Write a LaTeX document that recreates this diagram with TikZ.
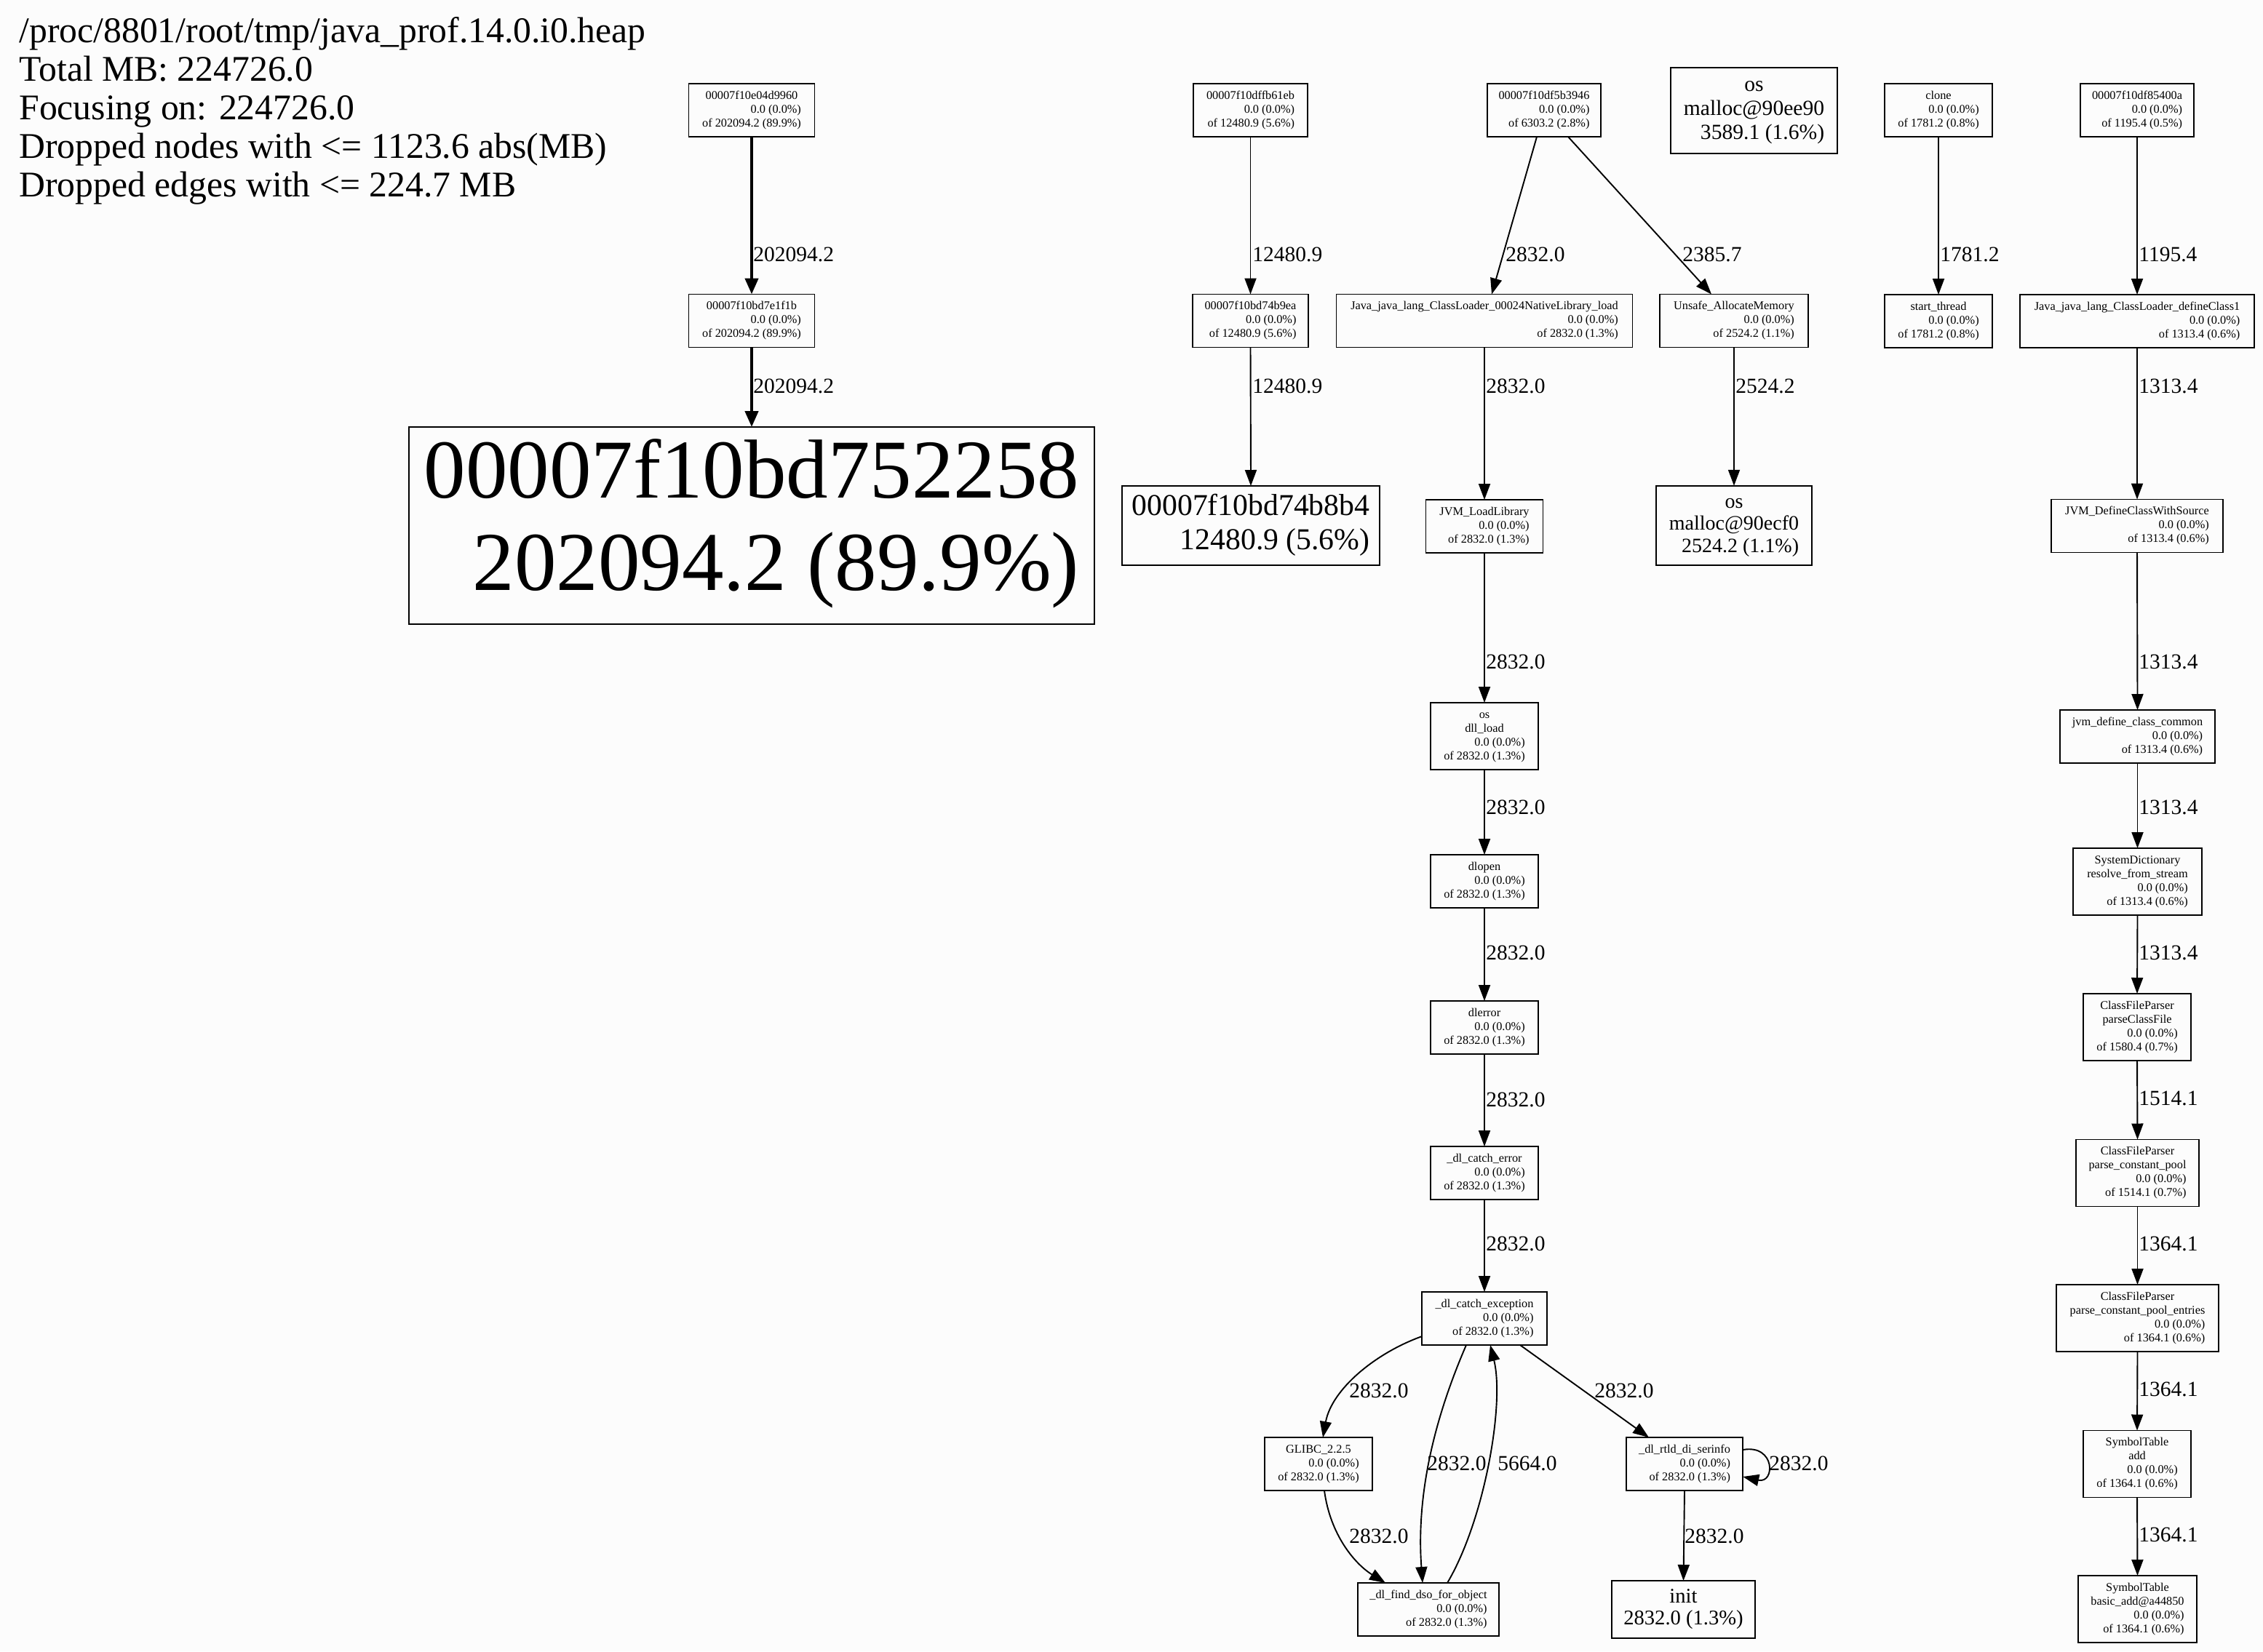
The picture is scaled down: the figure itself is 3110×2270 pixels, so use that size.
\documentclass[tikz,border=0pt]{standalone}
\usepackage{fontspec}
\setmainfont{Liberation Serif}
\usetikzlibrary{arrows.meta}
\newcommand\cl[1]{\multicolumn{1}{@{}c@{}}{#1}}
\newcommand\gv[1]{\begin{tabular}{@{}r@{}}#1\end{tabular}}
\definecolor{bgc}{RGB}{252,252,252}
\begin{document}
\begin{tikzpicture}[x=0.5pt,y=-0.5pt,
  gvbox/.style 2 args={draw, line width=0.9pt, inner sep=0pt, outer sep=0pt,
    minimum width=#1, minimum height=#2, font=\fontsize{8.15}{9.5}\selectfont},
  conn/.style={-{Triangle[length=11pt,width=8pt]}, line width=0.95pt},
  thickconn/.style={-{Triangle[length=11pt,width=9pt]}, line width=2.2pt},
  elab/.style={anchor=west, inner sep=0.5pt, font=\fontsize{14.75}{16}\selectfont},
  hdr/.style={anchor=base west, inner sep=0pt, font=\fontsize{24.85}{26.5}\selectfont}]
\useasboundingbox (0,0) rectangle (3110,2270);
\fill[bgc] (0,0) rectangle (3110,2270);

% header
\node[hdr] (h1) at (26,58) {/proc/8801/root/tmp/java\_prof.14.0.i0.heap};
\node[hdr] (h2) at (26,111) {Total MB: 224726.0};
\node[hdr] (h3) at (26,164) {Focusing on: 224726.0};
\node[hdr] (h4) at (26,217) {Dropped nodes with <= 1123.6 abs(MB)};
\node[hdr] (h5) at (26,270) {Dropped edges with <= 224.7 MB};

% column 1
\node[gvbox={86.5pt}{36.5pt}] (n1) at (1033,151.5) {\gv{\cl{00007f10e04d9960}\\0.0 (0.0\%)\\of 202094.2 (89.9\%)}};
\node[gvbox={86.5pt}{36.5pt}] (n2) at (1033,441) {\gv{\cl{00007f10bd7e1f1b}\\0.0 (0.0\%)\\of 202094.2 (89.9\%)}};
\node[gvbox={471pt}{135.5pt}, font=\fontsize{57.5}{63.5}\selectfont] (big) at (1033,722.5) {\gv{\cl{00007f10bd752258}\\202094.2 (89.9\%)}};

% column 2
\node[gvbox={78.5pt}{36.5pt}] (n4) at (1718.5,151.5) {\gv{\cl{00007f10dffb61eb}\\0.0 (0.0\%)\\of 12480.9 (5.6\%)}};
\node[gvbox={79.5pt}{36.5pt}] (n5) at (1718.5,441) {\gv{\cl{00007f10bd74b9ea}\\0.0 (0.0\%)\\of 12480.9 (5.6\%)}};
\node[gvbox={177pt}{54.5pt}, font=\fontsize{20.85}{23.5}\selectfont] (b8b4) at (1719,722.5) {\gv{\cl{00007f10bd74b8b4}\\12480.9 (5.6\%)}};

% column 3
\node[gvbox={77.75pt}{36.5pt}] (n7) at (2122,151.5) {\gv{\cl{00007f10df5b3946}\\0.0 (0.0\%)\\of 6303.2 (2.8\%)}};
\node[gvbox={203.5pt}{36.5pt}] (n8) at (2040,441) {\gv{\cl{Java\_java\_lang\_ClassLoader\_00024NativeLibrary\_load}\\0.0 (0.0\%)\\of 2832.0 (1.3\%)}};
\node[gvbox={102pt}{36.5pt}] (n9) at (2383,441) {\gv{\cl{Unsafe\_AllocateMemory}\\0.0 (0.0\%)\\of 2524.2 (1.1\%)}};
\node[gvbox={114.5pt}{59pt}, font=\fontsize{14.8}{16.5}\selectfont] (mee) at (2410.5,152) {\gv{\cl{os}\\\cl{malloc@90ee90}\\3589.1 (1.6\%)}};
\node[gvbox={107pt}{54.75pt}, font=\fontsize{14}{15.3}\selectfont] (mec) at (2383,722.5) {\gv{\cl{os}\\\cl{malloc@90ecf0}\\2524.2 (1.1\%)}};
\node[gvbox={80.5pt}{36.5pt}] (jll) at (2040,723.5) {\gv{\cl{JVM\_LoadLibrary}\\0.0 (0.0\%)\\of 2832.0 (1.3\%)}};
\node[gvbox={74pt}{46pt}] (dll) at (2040,1012) {\gv{\cl{os}\\\cl{dll\_load}\\0.0 (0.0\%)\\of 2832.0 (1.3\%)}};
\node[gvbox={74pt}{36.5pt}] (dlo) at (2040,1211.5) {\gv{\cl{dlopen}\\0.0 (0.0\%)\\of 2832.0 (1.3\%)}};
\node[gvbox={74pt}{36.5pt}] (dle) at (2040,1412.5) {\gv{\cl{dlerror}\\0.0 (0.0\%)\\of 2832.0 (1.3\%)}};
\node[gvbox={74pt}{36.5pt}] (dce) at (2040,1612.5) {\gv{\cl{\_dl\_catch\_error}\\0.0 (0.0\%)\\of 2832.0 (1.3\%)}};
\node[gvbox={85.75pt}{36.5pt}] (cex) at (2040,1812.5) {\gv{\cl{\_dl\_catch\_exception}\\0.0 (0.0\%)\\of 2832.0 (1.3\%)}};
\node[gvbox={74pt}{36.5pt}] (gl) at (1812,2012.5) {\gv{\cl{GLIBC\_2.2.5}\\0.0 (0.0\%)\\of 2832.0 (1.3\%)}};
\node[gvbox={97pt}{36.5pt}] (fd) at (1963,2212.5) {\gv{\cl{\_dl\_find\_dso\_for\_object}\\0.0 (0.0\%)\\of 2832.0 (1.3\%)}};
\node[gvbox={80.25pt}{36.5pt}] (rt) at (2315,2012.5) {\gv{\cl{\_dl\_rtld\_di\_serinfo}\\0.0 (0.0\%)\\of 2832.0 (1.3\%)}};
\node[gvbox={98.5pt}{39.5pt}, font=\fontsize{14.3}{15}\selectfont] (ini) at (2313.5,2212.5) {\gv{\cl{init}\\2832.0 (1.3\%)}};

% column 4
\node[gvbox={74pt}{36.5pt}] (clo) at (2664,151.5) {\gv{\cl{clone}\\0.0 (0.0\%)\\of 1781.2 (0.8\%)}};
\node[gvbox={74pt}{36.5pt}] (sth) at (2664,441.5) {\gv{\cl{start\_thread}\\0.0 (0.0\%)\\of 1781.2 (0.8\%)}};

% column 5
\node[gvbox={78pt}{36.5pt}] (n13) at (2937,151.5) {\gv{\cl{00007f10df85400a}\\0.0 (0.0\%)\\of 1195.4 (0.5\%)}};
\node[gvbox={161pt}{36.5pt}] (n14) at (2937,441.5) {\gv{\cl{Java\_java\_lang\_ClassLoader\_defineClass1}\\0.0 (0.0\%)\\of 1313.4 (0.6\%)}};
\node[gvbox={118pt}{36.5pt}] (dcws) at (2937,723) {\gv{\cl{JVM\_DefineClassWithSource}\\0.0 (0.0\%)\\of 1313.4 (0.6\%)}};
\node[gvbox={106.5pt}{36.5pt}] (jdc) at (2937.5,1012.5) {\gv{\cl{jvm\_define\_class\_common}\\0.0 (0.0\%)\\of 1313.4 (0.6\%)}};
\node[gvbox={88.5pt}{46pt}] (sd) at (2937.5,1212) {\gv{\cl{SystemDictionary}\\\cl{resolve\_from\_stream}\\0.0 (0.0\%)\\of 1313.4 (0.6\%)}};
\node[gvbox={74pt}{46pt}] (pcf) at (2937,1412) {\gv{\cl{ClassFileParser}\\\cl{parseClassFile}\\0.0 (0.0\%)\\of 1580.4 (0.7\%)}};
\node[gvbox={84.5pt}{46pt}] (pcp) at (2937.5,1612.5) {\gv{\cl{ClassFileParser}\\\cl{parse\_constant\_pool}\\0.0 (0.0\%)\\of 1514.1 (0.7\%)}};
\node[gvbox={111.5pt}{46pt}] (pce) at (2937.5,1812) {\gv{\cl{ClassFileParser}\\\cl{parse\_constant\_pool\_entries}\\0.0 (0.0\%)\\of 1364.1 (0.6\%)}};
\node[gvbox={74pt}{46pt}] (sta) at (2937,2012.5) {\gv{\cl{SymbolTable}\\\cl{add}\\0.0 (0.0\%)\\of 1364.1 (0.6\%)}};
\node[gvbox={81.5pt}{46pt}] (sba) at (2937.5,2212) {\gv{\cl{SymbolTable}\\\cl{basic\_add@a44850}\\0.0 (0.0\%)\\of 1364.1 (0.6\%)}};

% connectors
\draw[thickconn] (n1.south) -- (n2.north);
\draw[thickconn] (n2.south) -- (big.north);
\draw[conn] (n4.south) -- (n5.north);
\draw[conn] (n5.south) -- (b8b4.north);
\draw[conn] ([xshift=-5pt]n7.south) -- ([xshift=5pt]n8.north);
\draw[conn] ([xshift=16.5pt]n7.south) -- ([xshift=-15.5pt]n9.north);
\draw[conn] (n9.south) -- (mec.north);
\draw[conn] (n8.south) -- (jll.north);
\draw[conn] (jll.south) -- (dll.north);
\draw[conn] (dll.south) -- (dlo.north);
\draw[conn] (dlo.south) -- (dle.north);
\draw[conn] (dle.south) -- (dce.north);
\draw[conn] (dce.south) -- (cex.north);
\draw[conn] ([yshift=-12.25pt]cex.west) .. controls (1890,1860) and (1830,1910) .. ([xshift=3pt]gl.north);
\draw[conn] ([xshift=-12.5pt]cex.south) .. controls (1980,1930) and (1945,2040) .. ([xshift=-4pt]fd.north);
\draw[conn] ([xshift=13pt]fd.north) .. controls (2040,2090) and (2068,1930) .. ([xshift=4pt]cex.south);
\draw[conn] ([xshift=4pt]gl.south) .. controls (1828,2110) and (1862,2150) .. ([xshift=-29.5pt]fd.north);
\draw[conn] ([xshift=24.5pt]cex.south) -- ([xshift=-24.5pt]rt.north);
\draw[conn] ([yshift=9.75pt]rt.east) .. controls (2440,1985) and (2440,2040) .. ([yshift=-8.75pt]rt.east);
\draw[conn] (rt.south) -- (ini.north);
\draw[conn] (clo.south) -- (sth.north);
\draw[conn] (n13.south) -- (n14.north);
\draw[conn] (n14.south) -- (dcws.north);
\draw[conn] (dcws.south) -- (jdc.north);
\draw[conn] (jdc.south) -- (sd.north);
\draw[conn] (sd.south) -- (pcf.north);
\draw[conn] (pcf.south) -- (pcp.north);
\draw[conn] (pcp.south) -- (pce.north);
\draw[conn] (pce.south) -- (sta.north);
\draw[conn] (sta.south) -- (sba.north);

% edge labels
\node[elab] (e1) at (1034,350) {202094.2};
\node[elab] (e2) at (1034,531) {202094.2};
\node[elab] (e3) at (1720,350) {12480.9};
\node[elab] (e4) at (1720,531) {12480.9};
\node[elab] (e5) at (2068,350) {2832.0};
\node[elab] (e6) at (2311,350) {2385.7};
\node[elab] (e7) at (2665,350) {1781.2};
\node[elab] (e8) at (2938,350) {1195.4};
\node[elab] (e9) at (2041,531) {2832.0};
\node[elab] (e10) at (2384,531) {2524.2};
\node[elab] (e11) at (2938,531) {1313.4};
\node[elab] (e12) at (2041,910) {2832.0};
\node[elab] (e13) at (2041,1110) {2832.0};
\node[elab] (e14) at (2041,1310) {2832.0};
\node[elab] (e15) at (2041,1512) {2832.0};
\node[elab] (e16) at (2041,1710) {2832.0};
\node[elab] (e17) at (2938,910) {1313.4};
\node[elab] (e18) at (2938,1110) {1313.4};
\node[elab] (e19) at (2938,1310) {1313.4};
\node[elab] (e20) at (2938,1510) {1514.1};
\node[elab] (e21) at (2938,1710) {1364.1};
\node[elab] (e22) at (2938,1910) {1364.1};
\node[elab] (e23) at (2938,2110) {1364.1};
\node[elab] (e24) at (1853,1912) {2832.0};
\node[elab] (e25) at (1960,2012) {2832.0};
\node[elab] (e26) at (2057,2012) {5664.0};
\node[elab] (e27) at (1853,2112) {2832.0};
\node[elab] (e28) at (2190,1912) {2832.0};
\node[elab] (e29) at (2430,2012) {2832.0};
\node[elab] (e30) at (2314,2112) {2832.0};
\end{tikzpicture}
\end{document}
